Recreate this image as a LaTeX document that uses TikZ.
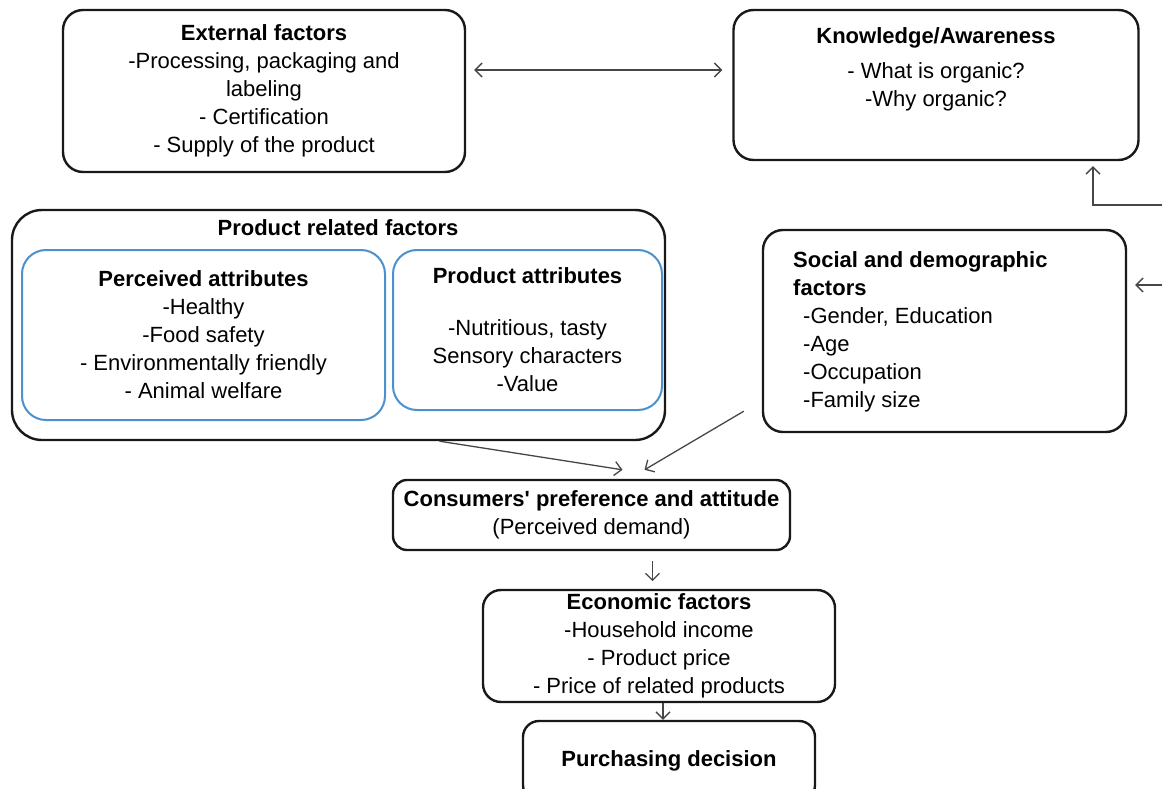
\documentclass[tikz,border=0pt]{standalone}
\usepackage{fontspec}
\setmainfont{Liberation Sans}
\usetikzlibrary{shapes.geometric, arrows, arrows.meta}
\definecolor{attrblue}{RGB}{75,145,205}
\definecolor{linkgray}{RGB}{70,70,70}
\tikzstyle{factor} = [rectangle, rounded corners=20pt, draw=black!90, line width=2.4pt, align=center, inner sep=0pt]
\tikzstyle{attr} = [rectangle, rounded corners=24pt, draw=attrblue, line width=2pt, align=center, inner sep=0pt]
\tikzstyle{txt} = [align=center, inner sep=0pt]
\tikzstyle{arrow} = [->, >={Straight Barb[length=7pt,width=14pt]}, draw=linkgray, line width=1.3pt]

\begin{document}
\begin{tikzpicture}[x=1pt, y=-1pt, font=\fontsize{22}{28}\selectfont]
\useasboundingbox (0,0) rectangle (1162,789);
\clip (0,0) rectangle (1162,789);

% top row
\node (ext) [factor, minimum width=402pt, minimum height=162pt] at (264,91) {\textbf{External factors}\\-Processing, packaging and\\labeling\\- Certification\\- Supply of the product};
\node (know) [factor, minimum width=405pt, minimum height=150pt] at (936,85) {};
\node (knowtxt) [txt, anchor=north] at (936,27) {\textbf{Knowledge/Awareness}\\[7pt]- What is organic?\\-Why organic?};
\draw [arrow, <->] ([yshift=21pt, xshift=8pt]ext.east) -- ([yshift=15pt, xshift=-10pt]know.west);

% product related factors
\node (prod) [factor, rounded corners=30pt, minimum width=653pt, minimum height=230pt] at (338.5,325) {};
\node (prodtxt) [txt, anchor=north] at (338,219) {\textbf{Product related factors}};
\node (perc) [attr, minimum width=363pt, minimum height=170pt] at (203.5,335) {\textbf{Perceived attributes}\\-Healthy\\-Food safety\\- Environmentally friendly\\- Animal welfare};
\node (pattr) [attr, minimum width=269pt, minimum height=160pt] at (527.5,330) {\textbf{Product attributes}\\[24pt]-Nutritious, tasty\\Sensory characters\\-Value};

% social and demographic factors
\node (social) [factor, minimum width=363pt, minimum height=202pt] at (944.5,331) {};
\node (socialtxt) [txt, align=left, anchor=north west] at (793,251) {\textbf{Social and demographic}\\\textbf{factors}\\\hspace*{10pt}-Gender, Education\\\hspace*{10pt}-Age\\\hspace*{10pt}-Occupation\\\hspace*{10pt}-Family size};
\coordinate (edgeA) at (1162,205);
\coordinate (edgeB) at (1162,285);
\draw [arrow] (edgeA) -| ([xshift=157pt, yshift=-5pt]know.south);
\draw [arrow] (edgeB) -- ([xshift=8pt, yshift=46pt]social.east);

% demand chain
\node (cons) [factor, rounded corners=14pt, minimum width=397pt, minimum height=70pt] at (591.5,515) {\textbf{Consumers\textquotesingle{} preference and attitude}\\(Perceived demand)};
\node (econ) [factor, rounded corners=18pt, minimum width=352pt, minimum height=112pt] at (659,646) {\textbf{Economic factors}\\-Household income\\- Product price\\- Price of related products};
\node (purch) [factor, rounded corners=16pt, minimum width=292pt, minimum height=80pt] at (669,761) {\textbf{Purchasing decision}};
\draw [arrow] ([xshift=101pt]prod.south) -- ([xshift=31pt, yshift=9pt]cons.north);
\draw [arrow] ([xshift=-18pt, yshift=22pt]social.south west) -- ([xshift=53pt, yshift=9pt]cons.north);
\draw [arrow] ([xshift=61pt, yshift=-10pt]cons.south) -- ([xshift=61pt, yshift=-30pt]cons.south);
\draw [arrow] ([xshift=4pt]econ.south) -- ([xshift=-6pt]purch.north);
\end{tikzpicture}
\end{document}
